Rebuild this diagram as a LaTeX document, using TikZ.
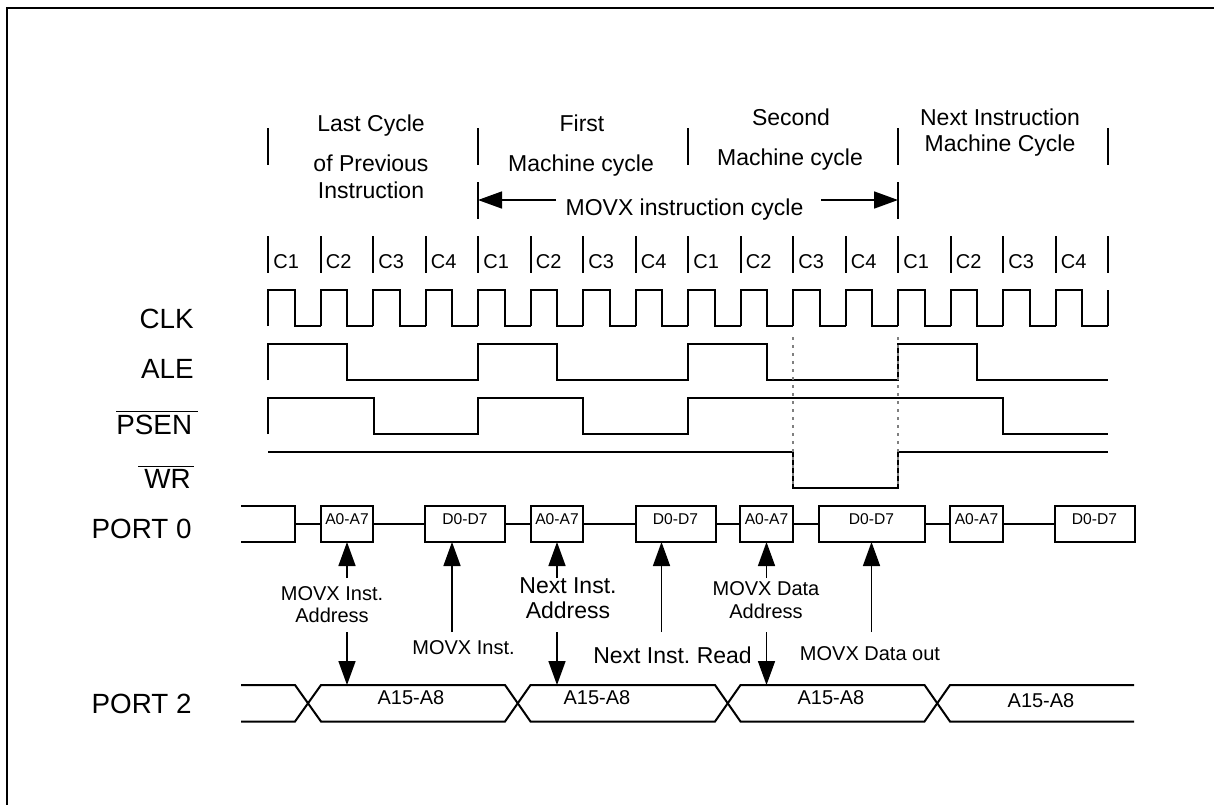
\documentclass[tikz,border=0pt]{standalone}
\usepackage{fontspec}
\setmainfont{Liberation Sans}
\usetikzlibrary{arrows.meta}
\tikzset{
    >={Triangle[length=12pt,width=8.5pt]},
    x=0.5pt,y=-0.5pt,
    sig/.style={line width=1pt},
    hair/.style={line width=0.8pt},
    guide/.style={line width=0.75pt,gray,dash pattern=on 1.5pt off 2.5pt},
    bigtxt/.style={anchor=base,inner sep=0pt,font=\fontsize{11.5}{13}\selectfont},
    midtxt/.style={anchor=base,inner sep=0pt,font=\fontsize{10}{12}\selectfont},
    sigtxt/.style={anchor=base east,inner sep=0pt,font=\fontsize{13.9}{16}\selectfont},
    phase/.style={anchor=base west,inner sep=0pt,font=\fontsize{10}{12}\selectfont},
    busbox/.style={draw,line width=1pt,outer sep=0pt,inner sep=0pt,minimum height=18pt,minimum width=#1,
        text height=6pt,text depth=6pt,font=\fontsize{7.8}{9}\selectfont},
}
\begin{document}
\frenchspacing
\begin{tikzpicture}
    \useasboundingbox (0,0) rectangle (1214,805);
    \draw[sig] (1214,7.5) -- (7,7.5) -- (7,805);

    % machine cycle titles
    \node[bigtxt] (last1) at (371,131) {Last Cycle};
    \node[bigtxt] (last2) at (371,171) {of Previous};
    \node[bigtxt] (last3) at (371,198) {Instruction};
    \node[bigtxt] (first1) at (582,131) {First};
    \node[bigtxt] (first2) at (581,171) {Machine cycle};
    \node[bigtxt] (second1) at (791,125) {Second};
    \node[bigtxt] (second2) at (790,165) {Machine cycle};
    \node[bigtxt] (next1) at (1000,125) {Next Instruction};
    \node[bigtxt] (next2) at (1000,151) {Machine Cycle};
    \foreach \x in {268,478,688,898,1108}
        \draw[sig] (\x,128) -- (\x,165);

    % instruction span
    \draw[sig] (478,182) -- (478,219);
    \draw[sig] (898,182) -- (898,219);
    \coordinate (spanl) at (478,200);
    \coordinate (spanr) at (898,200);
    \coordinate (spanlt) at (556,200);
    \coordinate (spanrt) at (821,200);
    \node[bigtxt] (span) at (684.5,215) {MOVX instruction cycle};
    \draw[->,hair] (spanlt) -- (spanl);
    \draw[->,hair] (spanrt) -- (spanr);

    % clock phases
    \foreach \x/\c in {268/1,320.5/2,373/3,425.5/4,478/1,530.5/2,583/3,635.5/4,688/1,740.5/2,793/3,845.5/4,898/1,950.5/2,1003/3,1055.5/4} {
        \draw[sig] (\x,236) -- (\x,272.5);
        \node[phase] at (\x+5,268) {C\c};
        \draw[sig] (\x,326) -- (\x,290) -- (\x+26.5,290) -- (\x+26.5,326) -- (\x+52.5,326);
    }
    \draw[sig] (1108,236) -- (1108,272.5);
    \draw[sig] (1108,326) -- (1108,290);

    % signal names
    \node[sigtxt] (clk) at (194,328) {CLK};
    \node[sigtxt] (ale) at (194,378) {ALE};
    \node[sigtxt] (psen) at (198.5,434) {$\overline{\mbox{PSEN\kern3pt}}$};
    \node[sigtxt] (wr) at (194,488) {$\overline{\mbox{\kern3pt WR\kern1.5pt}}$};
    \node[sigtxt] (port0) at (192,538) {PORT 0};
    \node[sigtxt] (port2) at (192,713) {PORT 2};

    % waveforms
    \draw[sig] (268,380) -- (268,344) -- (347,344) -- (347,380) -- (478,380) -- (478,344) -- (556.5,344) -- (556.5,380)
        -- (688,380) -- (688,344) -- (767,344) -- (767,380) -- (898,380) -- (898,344) -- (977,344) -- (977,380) -- (1108,380);
    \draw[sig] (268,434) -- (268,398) -- (373.5,398) -- (373.5,434) -- (478,434) -- (478,398) -- (583,398) -- (583,434)
        -- (688,434) -- (688,398) -- (1003,398) -- (1003,434) -- (1108,434);
    \draw[sig] (268,452) -- (793,452) -- (793,488) -- (898,488) -- (898,452) -- (1108,452);
    \draw[guide] (793,337) -- (793,488);
    \draw[guide] (898,337) -- (898,488);

    % port 0
    \node[busbox=26.25pt] (a1) at (347,524) {A0-A7};
    \node[busbox=40pt] (d1) at (465,524) {D0-D7};
    \node[busbox=26.25pt] (a2) at (557,524) {A0-A7};
    \node[busbox=40pt] (d2) at (675.5,524) {D0-D7};
    \node[busbox=26.25pt] (a3) at (766.5,524) {A0-A7};
    \node[busbox=53pt] (d3) at (871.5,524) {D0-D7};
    \node[busbox=26.25pt] (a4) at (976.5,524) {A0-A7};
    \node[busbox=40pt] (d4) at (1094.5,524) {D0-D7};
    \coordinate (stub) at (295,524);
    \draw[sig] (241,506) -- (295,506) -- (295,542) -- (241,542);
    \draw[sig] (stub) -- (a1) -- (d1) -- (a2) -- (d2) -- (a3) -- (d3) -- (a4) -- (d4);

    % port 2
    \draw[sig] (241,685) -- (295,685) -- (321,721.5) -- (505,721.5) -- (530.5,685) -- (715,685) -- (740.5,721.5) -- (924.5,721.5) -- (950,685) -- (1134,685);
    \draw[sig] (241,721.5) -- (295,721.5) -- (321,685) -- (505,685) -- (530.5,721.5) -- (715,721.5) -- (740.5,685) -- (924.5,685) -- (950,721.5) -- (1134,721.5);
    \node[midtxt] (b1) at (411,704) {A15-A8};
    \node[midtxt] (b2) at (597,704) {A15-A8};
    \node[midtxt] (b3) at (831,704) {A15-A8};
    \node[midtxt] (b4) at (1041,707) {A15-A8};

    % address and data arrows
    \coordinate (up1) at (347,578);
    \coordinate (dn1) at (347,632);
    \coordinate (hit1) at (347,685);
    \draw[->,hair] (up1) -- (a1.south);
    \draw[->,hair] (dn1) -- (hit1);
    \node[midtxt] (lab1) at (332,600) {MOVX Inst.};
    \node[midtxt] at (332,622) {Address};

    \coordinate (up2) at (452,632);
    \draw[->,hair] (up2) -- (up2 |- d1.south);
    \node[midtxt] (lab2) at (463.5,654) {MOVX Inst.};

    \coordinate (up3) at (557,578);
    \coordinate (dn3) at (557,632);
    \coordinate (hit3) at (557,685);
    \draw[->,hair] (up3) -- (a2.south);
    \draw[->,hair] (dn3) -- (hit3);
    \node[bigtxt] (lab3) at (568,593) {Next Inst.};
    \node[bigtxt] at (568,618) {Address};

    \coordinate (up4) at (661.5,632);
    \draw[->,hair] (up4) -- (up4 |- d2.south);
    \node[bigtxt] (lab4) at (672.5,663) {Next Inst. Read};

    \coordinate (up5) at (766.5,578);
    \coordinate (dn5) at (766.5,632);
    \coordinate (hit5) at (766.5,685);
    \draw[->,hair] (up5) -- (a3.south);
    \draw[->,hair] (dn5) -- (hit5);
    \node[midtxt] (lab5) at (766,595) {MOVX Data};
    \node[midtxt] at (766,618) {Address};

    \coordinate (up6) at (871.5,632);
    \draw[->,hair] (up6) -- (d3.south);
    \node[midtxt] (lab6) at (870,660) {MOVX Data out};
\end{tikzpicture}
\end{document}
